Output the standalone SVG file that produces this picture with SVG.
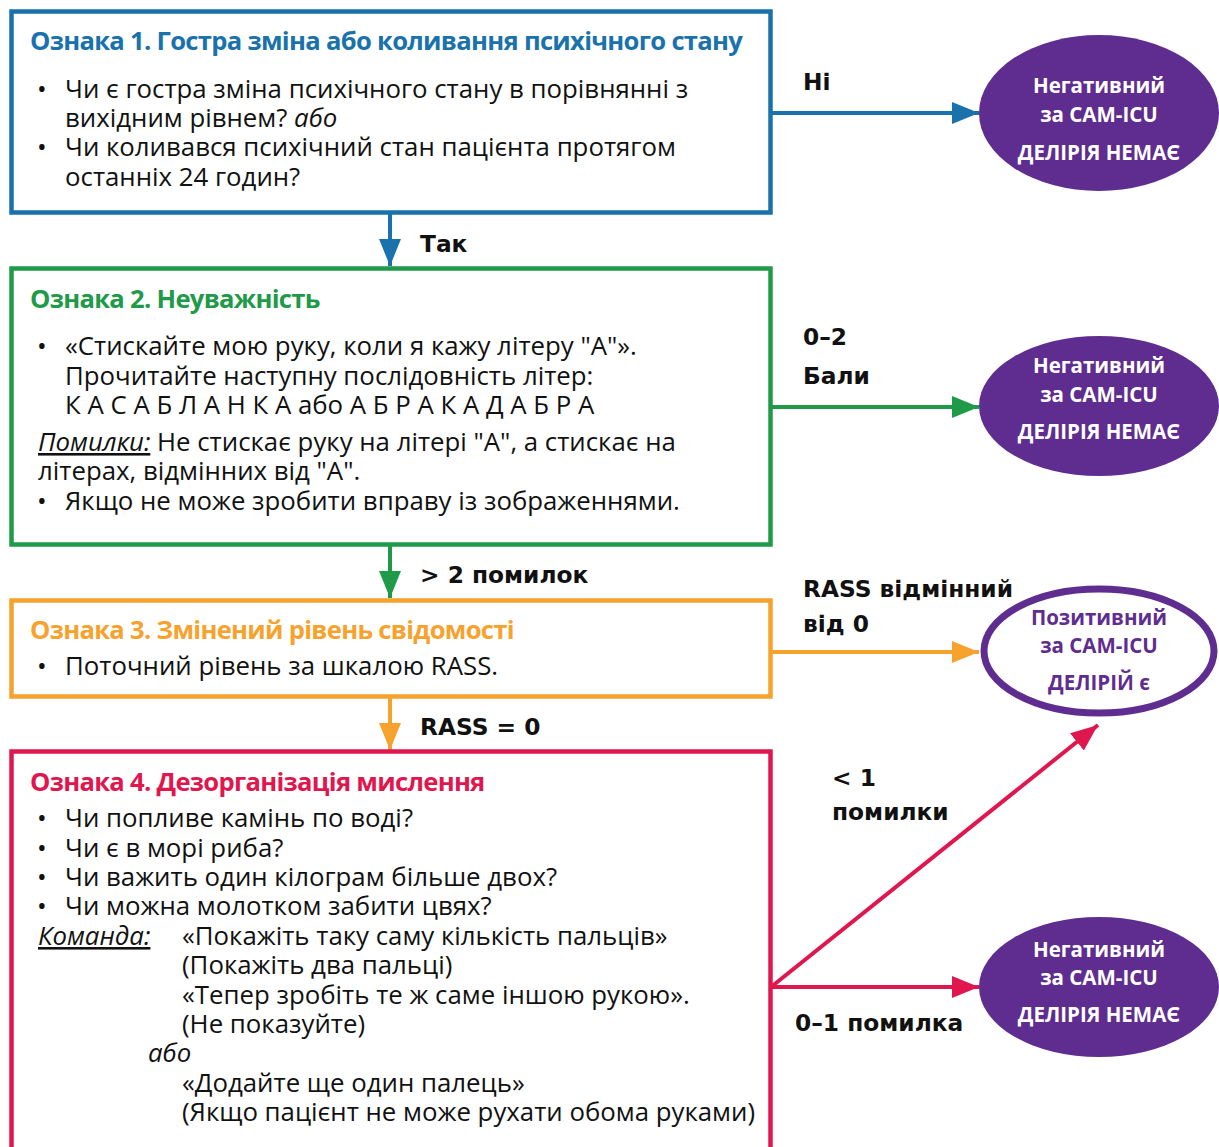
<svg xmlns="http://www.w3.org/2000/svg" width="1219" height="1147" viewBox="0 0 1219 1147">
  <style>
    .box { fill: #ffffff; stroke-width: 4.5; }
    .title { font-family: "Open Sans", "Noto Sans", sans-serif; font-weight: 700; font-size: 25.6px; letter-spacing: -0.7px; }
    .body { font-family: "Open Sans", "Noto Sans", sans-serif; font-size: 25.8px; fill: #111111; }
    .it { font-style: italic; }
    .ul { text-decoration: underline; }
    .lbl { font-family: "DejaVu Sans", "Noto Sans", sans-serif; font-weight: 700; font-size: 23.3px; fill: #111111; }
    .ov { font-family: "Open Sans", "Noto Sans", sans-serif; font-weight: 700; font-size: 20.5px; text-anchor: middle; }
    .ovneg { fill: #ffffff; }
    .ovpos { fill: #5f2d8f; }
    .conn { fill: none; stroke-width: 4; }
  </style>
  <defs>
    <marker id="ah-blue" markerUnits="userSpaceOnUse" markerWidth="28" markerHeight="24" refX="27" refY="12" orient="auto">
      <path d="M0,1 L27,12 L0,23 z" fill="#1a72ac"/>
    </marker>
    <marker id="ah-green" markerUnits="userSpaceOnUse" markerWidth="28" markerHeight="24" refX="27" refY="12" orient="auto">
      <path d="M0,1 L27,12 L0,23 z" fill="#1f9a48"/>
    </marker>
    <marker id="ah-orange" markerUnits="userSpaceOnUse" markerWidth="28" markerHeight="24" refX="27" refY="12" orient="auto">
      <path d="M0,1 L27,12 L0,23 z" fill="#f7a22d"/>
    </marker>
    <marker id="ah-red" markerUnits="userSpaceOnUse" markerWidth="28" markerHeight="24" refX="27" refY="12" orient="auto">
      <path d="M0,1 L27,12 L0,23 z" fill="#e0174f"/>
    </marker>
  </defs>

  <rect width="1219" height="1147" fill="#ffffff"/>

  <!-- connectors -->
  <g id="connectors">
    <line class="conn" x1="771" y1="113" x2="979" y2="113" stroke="#1a72ac" marker-end="url(#ah-blue)"/>
    <line class="conn" x1="390" y1="213" x2="390" y2="266" stroke="#1a72ac" marker-end="url(#ah-blue)"/>
    <line class="conn" x1="771" y1="407" x2="979" y2="407" stroke="#1f9a48" marker-end="url(#ah-green)"/>
    <line class="conn" x1="390" y1="545" x2="390" y2="598" stroke="#1f9a48" marker-end="url(#ah-green)"/>
    <line class="conn" x1="771" y1="652" x2="979" y2="652" stroke="#f7a22d" marker-end="url(#ah-orange)"/>
    <line class="conn" x1="390" y1="697" x2="390" y2="750" stroke="#f7a22d" marker-end="url(#ah-orange)"/>
    <line class="conn" x1="771" y1="987" x2="1098" y2="725" stroke="#e0174f" marker-end="url(#ah-red)"/>
    <line class="conn" x1="771" y1="987" x2="979" y2="987" stroke="#e0174f" marker-end="url(#ah-red)"/>

    <text class="lbl" x="803" y="90">Ні</text>
    <text class="lbl" x="420" y="252">Так</text>
    <text class="lbl" x="803" y="345">0–2</text>
    <text class="lbl" x="803" y="384">Бали</text>
    <text class="lbl" x="420" y="583">&gt; 2 помилок</text>
    <text class="lbl" x="803" y="597">RASS відмінний</text>
    <text class="lbl" x="803" y="632">від 0</text>
    <text class="lbl" x="420" y="735">RASS = 0</text>
    <text class="lbl" x="832" y="786">&lt; 1</text>
    <text class="lbl" x="832" y="820">помилки</text>
    <text class="lbl" x="795" y="1031">0–1 помилка</text>
  </g>

  <!-- Feature 1 -->
  <g id="feature1">
    <rect class="box" x="11.5" y="11.5" width="759" height="201" stroke="#1a72ac"/>
    <text class="title" x="30" y="50" fill="#1a72ac">Ознака 1. Гостра зміна або коливання психічного стану</text>
    <text class="body" x="37" y="98">•</text>
    <text class="body" x="65" y="98">Чи є гостра зміна психічного стану в порівнянні з</text>
    <text class="body" x="65" y="127">вихідним рівнем? <tspan class="it">або</tspan></text>
    <text class="body" x="37" y="156">•</text>
    <text class="body" x="65" y="156">Чи коливався психічний стан пацієнта протягом</text>
    <text class="body" x="65" y="186">останніх 24 годин?</text>
  </g>

  <!-- Feature 2 -->
  <g id="feature2">
    <rect class="box" x="11.5" y="268.5" width="759" height="276" stroke="#1f9a48"/>
    <text class="title" x="30" y="308" fill="#1f9a48">Ознака 2. Неуважність</text>
    <text class="body" x="37" y="355">•</text>
    <text class="body" x="65" y="355">«Стискайте мою руку, коли я кажу літеру "А"».</text>
    <text class="body" x="65" y="385">Прочитайте наступну послідовність літер:</text>
    <text class="body" x="65" y="414">К А С А Б Л А Н К А або А Б Р А К А Д А Б Р А</text>
    <text class="body" x="38" y="451"><tspan class="it ul">Помилки:</tspan> Не стискає руку на літері "А", а стискає на</text>
    <text class="body" x="38" y="480">літерах, відмінних від "А".</text>
    <text class="body" x="37" y="510">•</text>
    <text class="body" x="65" y="510">Якщо не може зробити вправу із зображеннями.</text>
  </g>

  <!-- Feature 3 -->
  <g id="feature3">
    <rect class="box" x="11.5" y="600.5" width="759" height="96" stroke="#f7a22d"/>
    <text class="title" x="30" y="639" fill="#f7a22d">Ознака 3. Змінений рівень свідомості</text>
    <text class="body" x="37" y="675">•</text>
    <text class="body" x="65" y="675">Поточний рівень за шкалою RASS.</text>
  </g>

  <!-- Feature 4 -->
  <g id="feature4">
    <rect class="box" x="11.5" y="751.5" width="759" height="420" stroke="#e0174f"/>
    <text class="title" x="30" y="791" fill="#e0174f">Ознака 4. Дезорганізація мислення</text>
    <text class="body" x="37" y="827">•</text>
    <text class="body" x="65" y="827">Чи попливе камінь по воді?</text>
    <text class="body" x="37" y="857">•</text>
    <text class="body" x="65" y="857">Чи є в морі риба?</text>
    <text class="body" x="37" y="886">•</text>
    <text class="body" x="65" y="886">Чи важить один кілограм більше двох?</text>
    <text class="body" x="37" y="915">•</text>
    <text class="body" x="65" y="915">Чи можна молотком забити цвях?</text>
    <text class="body it ul" x="38" y="945">Команда:</text>
    <text class="body" x="182" y="945">«Покажіть таку саму кількість пальців»</text>
    <text class="body" x="182" y="974">(Покажіть два пальці)</text>
    <text class="body" x="182" y="1004">«Тепер зробіть те ж саме іншою рукою».</text>
    <text class="body" x="182" y="1033">(Не показуйте)</text>
    <text class="body it" x="148" y="1062">або</text>
    <text class="body" x="182" y="1092">«Додайте ще один палець»</text>
    <text class="body" x="182" y="1121">(Якщо пацієнт не може рухати обома руками)</text>
  </g>

  <!-- Outcome ovals -->
  <g id="negative1">
    <ellipse cx="1099" cy="113" rx="120" ry="78" fill="#5f2d8f"/>
    <text class="ov ovneg" x="1099" y="93">Негативний</text>
    <text class="ov ovneg" x="1099" y="122">за CAM-ICU</text>
    <text class="ov ovneg" x="1099" y="160">ДЕЛІРІЯ НЕМАЄ</text>
  </g>
  <g id="negative2">
    <ellipse cx="1099" cy="406" rx="120" ry="70" fill="#5f2d8f"/>
    <text class="ov ovneg" x="1099" y="373">Негативний</text>
    <text class="ov ovneg" x="1099" y="402">за CAM-ICU</text>
    <text class="ov ovneg" x="1099" y="439">ДЕЛІРІЯ НЕМАЄ</text>
  </g>
  <g id="positive">
    <ellipse cx="1099" cy="651" rx="115" ry="62" fill="#ffffff" stroke="#5f2d8f" stroke-width="7"/>
    <text class="ov ovpos" x="1099" y="625">Позитивний</text>
    <text class="ov ovpos" x="1099" y="653">за CAM-ICU</text>
    <text class="ov ovpos" x="1099" y="690">ДЕЛІРІЙ є</text>
  </g>
  <g id="negative3">
    <ellipse cx="1099" cy="987" rx="120" ry="70" fill="#5f2d8f"/>
    <text class="ov ovneg" x="1099" y="957">Негативний</text>
    <text class="ov ovneg" x="1099" y="985">за CAM-ICU</text>
    <text class="ov ovneg" x="1099" y="1022">ДЕЛІРІЯ НЕМАЄ</text>
  </g>
</svg>
